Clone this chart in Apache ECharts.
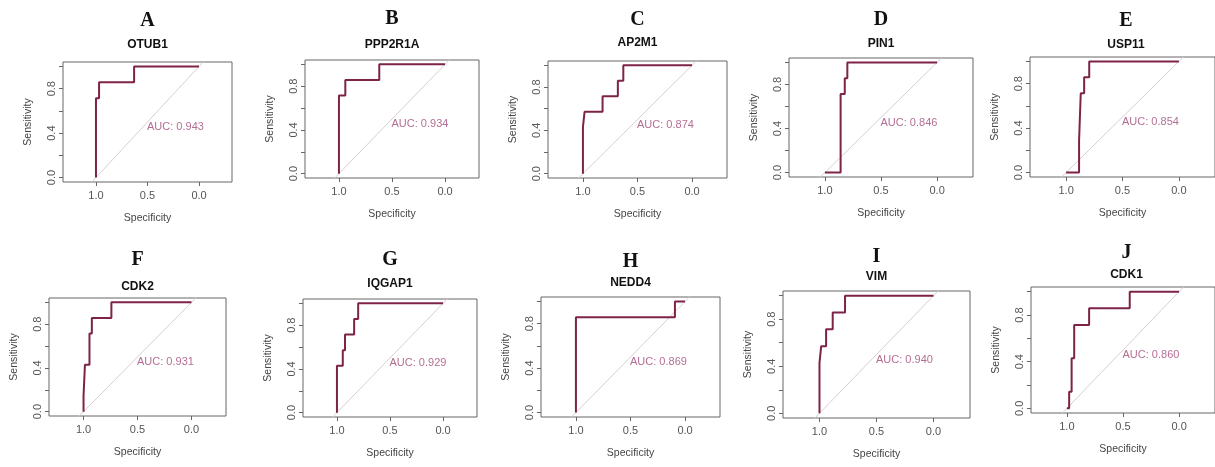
<!DOCTYPE html>
<html>
<head>
<meta charset="utf-8">
<script src="https://cdn.jsdelivr.net/npm/echarts@6/dist/echarts.min.js"></script>
<style>
html, body { margin: 0; padding: 0; background: #fff; }
#chart { width: 1215px; height: 467px; }
</style>
</head>
<body>
<div id="chart"></div>
<script>
// panel letters, gene names and AUC values
var letters = ['A', 'B', 'C', 'D', 'E', 'F', 'G', 'H', 'I', 'J'];
var genes = ['OTUB1', 'PPP2R1A', 'AP2M1', 'PIN1', 'USP11', 'CDK2', 'IQGAP1', 'NEDD4', 'VIM', 'CDK1'];
var aucValues = ['0.943', '0.934', '0.874', '0.846', '0.854', '0.931', '0.929', '0.869', '0.940', '0.860'];

// ROC step curves, [specificity, sensitivity]
var rocOTUB1 = [[1, 0], [1, 0.714], [0.97, 0.714], [0.97, 0.857], [0.63, 0.857], [0.63, 1], [0, 1]];
var rocPPP2R1A = [[1, 0], [1, 0.714], [0.94, 0.714], [0.94, 0.857], [0.62, 0.857], [0.62, 1], [0, 1]];
var rocAP2M1 = [[1, 0], [1, 0.429], [0.985, 0.429], [0.985, 0.571], [0.82, 0.571], [0.82, 0.714], [0.68, 0.714], [0.68, 0.857], [0.63, 0.857], [0.63, 1], [0, 1]];
var rocPIN1 = [[1, 0], [0.86, 0], [0.86, 0.714], [0.823, 0.714], [0.823, 0.857], [0.80, 0.857], [0.80, 1], [0, 1]];
var rocUSP11 = [[1, 0], [0.885, 0], [0.885, 0.286], [0.87, 0.286], [0.87, 0.714], [0.84, 0.714], [0.84, 0.857], [0.795, 0.857], [0.795, 1], [0, 1]];
var rocCDK2 = [[1, 0], [1, 0.143], [0.987, 0.143], [0.987, 0.429], [0.945, 0.429], [0.945, 0.714], [0.923, 0.714], [0.923, 0.857], [0.742, 0.857], [0.742, 1], [0, 1]];
var rocIQGAP1 = [[1, 0], [1, 0.429], [0.945, 0.429], [0.945, 0.571], [0.924, 0.571], [0.924, 0.714], [0.838, 0.714], [0.838, 0.857], [0.80, 0.857], [0.80, 1], [0, 1]];
var rocNEDD4 = [[1, 0], [1, 0.857], [0.093, 0.857], [0.093, 1], [0, 1]];
var rocVIM = [[1, 0], [1, 0.429], [0.985, 0.429], [0.985, 0.571], [0.942, 0.571], [0.942, 0.714], [0.884, 0.714], [0.884, 0.857], [0.776, 0.857], [0.776, 1], [0, 1]];
var rocCDK1 = [[1, 0], [0.98, 0], [0.98, 0.143], [0.958, 0.143], [0.958, 0.429], [0.935, 0.429], [0.935, 0.714], [0.802, 0.714], [0.802, 0.857], [0.44, 0.857], [0.44, 1], [0, 1]];
var curves = [rocOTUB1, rocPPP2R1A, rocAP2M1, rocPIN1, rocUSP11, rocCDK2, rocIQGAP1, rocNEDD4, rocVIM, rocCDK1];

// chance line and tick values
var chanceLine = [[1.5, -0.5], [-0.5, 1.5]];
var specTicks = [0, 0.5, 1];
var sensTicks = [0, 0.2, 0.4, 0.6, 0.8, 1];
var sensLabels = [0, 0.4, 0.8];
var aucPos = [0.5, 0.5];

// layout: plot box [left, top, right, bottom] and [letterY, titleY]
var boxes = [
    [63, 62, 232, 182], [305, 60, 479, 178], [548, 61, 727, 178], [789, 58, 973, 177], [1030, 57, 1222, 177],
    [49, 298, 226, 416], [303, 299, 477, 417], [541, 297, 720, 417], [783, 291, 970, 418], [1031, 287, 1222, 413]
];
var heads = [
    [21, 45], [19, 45], [20, 43], [20, 44], [21, 45],
    [260, 287], [260, 284], [262, 283], [257, 277], [253, 275]
];

var curveColor = '#7d2348';
var aucColor = '#a04a78';

const buildOption = () => {
    var grid = [], xAxis = [], yAxis = [], series = [], graphic = [];
    curves.forEach(function (curve, i) {
        var b = boxes[i];
        var cx = (b[0] + b[2]) / 2;
        grid.push({
            left: b[0], top: b[1], width: b[2] - b[0], height: b[3] - b[1],
            show: true, borderColor: '#666', borderWidth: 1, backgroundColor: 'transparent'
        });
        xAxis.push({
            type: 'value', gridIndex: i, inverse: true, min: -0.32, max: 1.32, position: 'bottom',
            name: 'Specificity', nameLocation: 'middle', nameGap: 31,
            nameTextStyle: { fontSize: 10.5, color: '#444', fontFamily: 'Liberation Sans' },
            axisLine: { show: false, onZero: false },
            axisTick: { show: true, customValues: specTicks, length: 4, lineStyle: { color: '#666' } },
            axisLabel: {
                customValues: specTicks, margin: 8, fontSize: 11, color: '#555', fontFamily: 'Liberation Sans',
                formatter: function (v) { return v.toFixed(1); }
            },
            splitLine: { show: false }
        });
        yAxis.push({
            type: 'value', gridIndex: i, min: -0.04, max: 1.04, position: 'left',
            name: 'Sensitivity', nameLocation: 'middle', nameGap: 29,
            nameTextStyle: { fontSize: 10.5, color: '#444', fontFamily: 'Liberation Sans' },
            axisLine: { show: false, onZero: false },
            axisTick: { show: true, customValues: sensTicks, length: 4, lineStyle: { color: '#666' } },
            axisLabel: {
                customValues: sensLabels, rotate: 90, margin: 6, fontSize: 11, color: '#555', fontFamily: 'Liberation Sans',
                formatter: function (v) { return v.toFixed(1); }
            },
            splitLine: { show: false }
        });
        series.push({
            type: 'line', xAxisIndex: i, yAxisIndex: i, data: chanceLine, showSymbol: false, clip: true,
            silent: true, lineStyle: { color: '#d8cdd3', width: 1 }, z: 2
        });
        series.push({
            type: 'line', xAxisIndex: i, yAxisIndex: i, data: curve, showSymbol: false, clip: true,
            silent: true, lineStyle: { color: curveColor, width: 2 }, z: 3
        });
        series.push({
            type: 'scatter', xAxisIndex: i, yAxisIndex: i, data: [aucPos], symbolSize: 1,
            itemStyle: { color: 'rgba(0,0,0,0)' }, silent: true,
            label: {
                show: true, position: [0, 0], align: 'left', verticalAlign: 'top',
                formatter: 'AUC: ' + aucValues[i], color: aucColor, fontSize: 11, fontFamily: 'Liberation Sans'
            }
        });
        graphic.push({
            type: 'text', x: cx, y: heads[i][0],
            style: { text: letters[i], align: 'center', verticalAlign: 'middle', fill: '#111',
                font: 'bold 20px "Liberation Serif"' }
        });
        graphic.push({
            type: 'text', x: cx, y: heads[i][1],
            style: { text: genes[i], align: 'center', verticalAlign: 'middle', fill: '#111',
                font: 'bold 12px "Liberation Sans"' }
        });
    });
    return {
        backgroundColor: '#fff',
        animation: false,
        grid: grid, xAxis: xAxis, yAxis: yAxis, series: series, graphic: graphic
    };
};

window.addEventListener('load', () => {
    const chart = echarts.init(document.getElementById('chart'));
    chart.setOption(buildOption());
});
</script>
</body>
</html>
